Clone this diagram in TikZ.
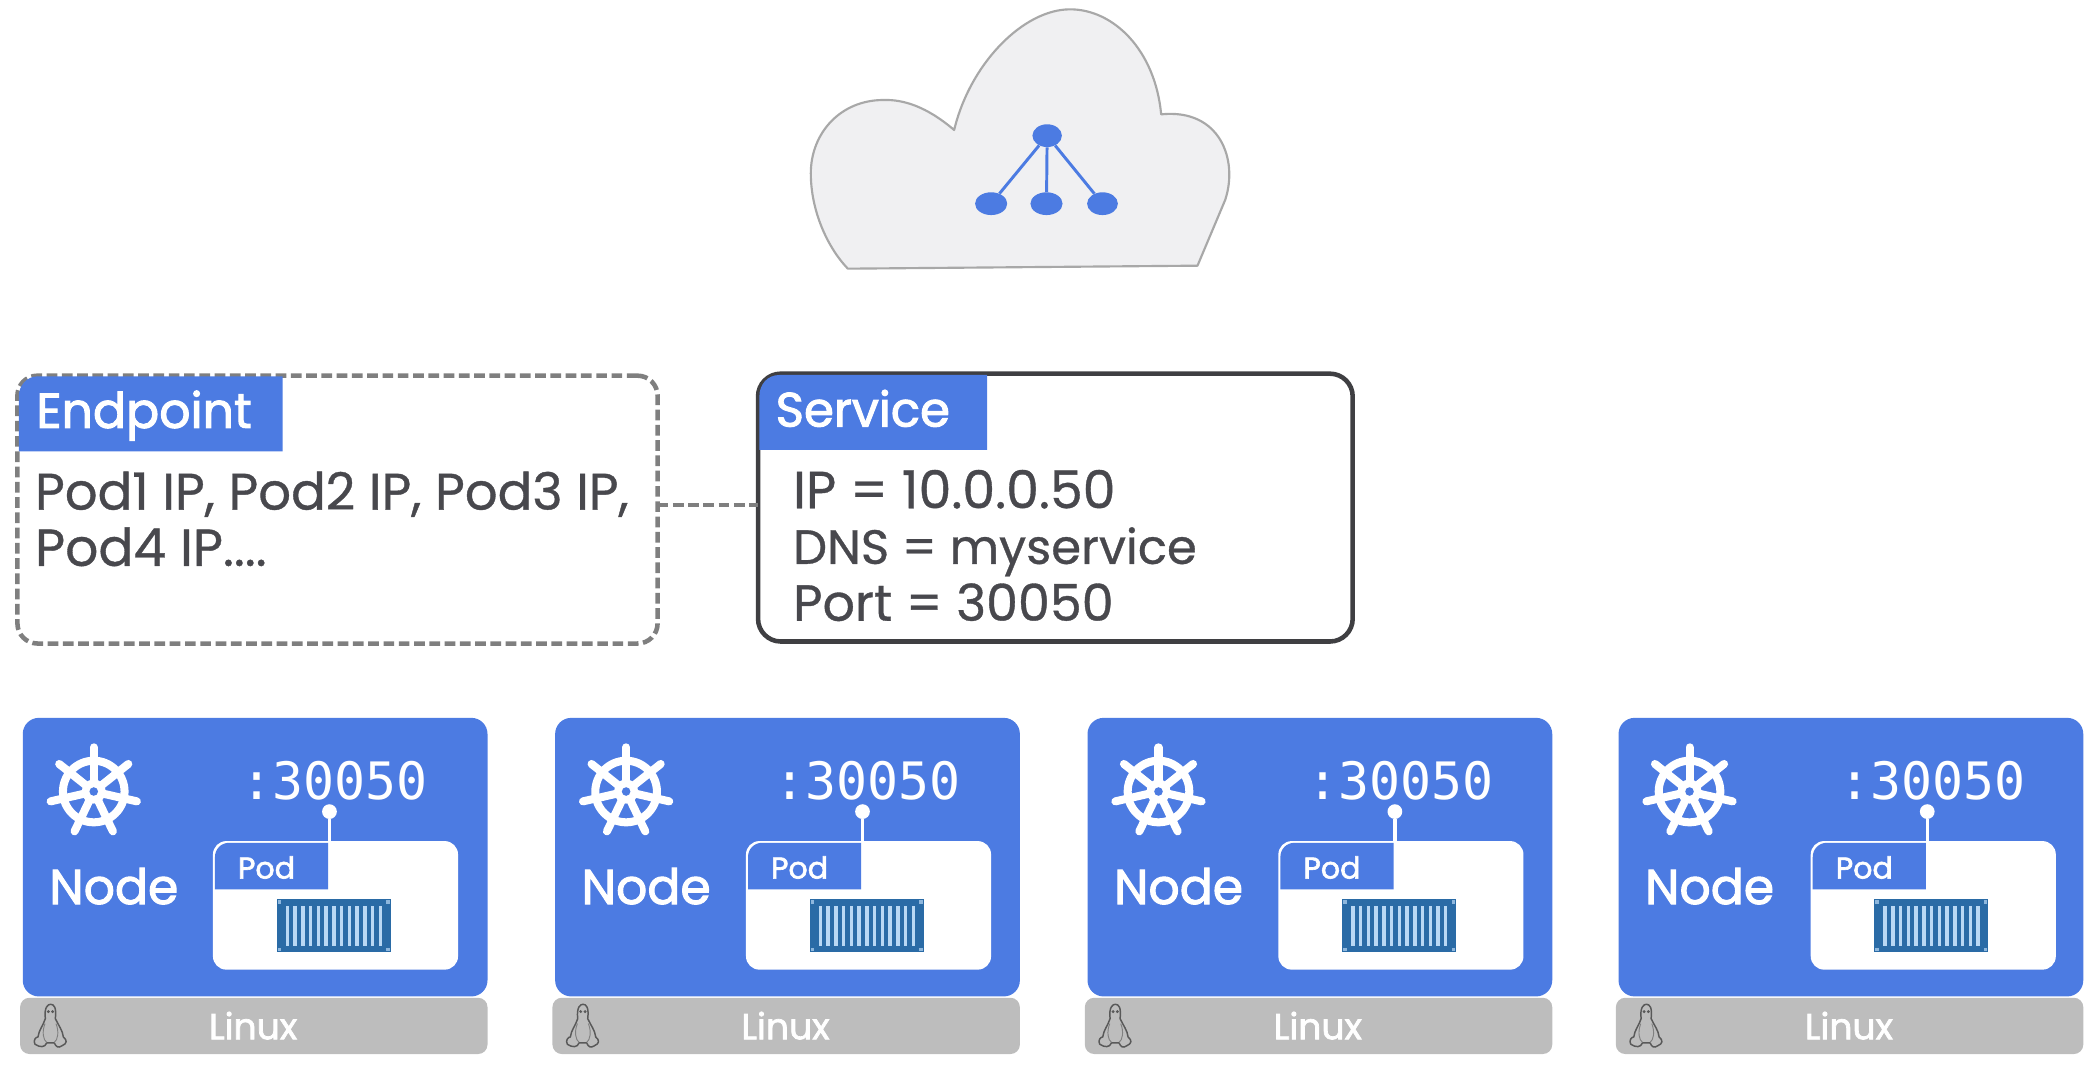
\documentclass[tikz,border=0pt]{standalone}
\usepackage{fontspec}
\setmainfont{Poppins}
\newfontfamily\bodyfont[FakeBold=0.7]{Poppins}
\newfontfamily\medfont[FakeBold=2]{Poppins}
\newfontfamily\portfont{DejaVu Sans Mono}
\definecolor{kblue}{HTML}{4C7BE2}
\definecolor{ktext}{HTML}{48484D}
\definecolor{kbar}{HTML}{BDBDBD}
\definecolor{kcont}{HTML}{2A6BA6}
\definecolor{kslat}{HTML}{B9D8F4}
\definecolor{kcloud}{HTML}{F0F0F2}
\definecolor{kcloudline}{HTML}{A8A8A8}
\definecolor{kdash}{HTML}{7F7F7F}
\definecolor{kborder}{HTML}{3F3F42}
\tikzset{
  plainbox/.style={rectangle,inner sep=0pt,outer sep=0pt},
  nodebox/.style={plainbox,fill=kblue,rounded corners=12pt,minimum width=347pt,minimum height=208pt},
  barbox/.style={plainbox,fill=kbar,rounded corners=7pt,minimum width=349pt,minimum height=42pt},
  podbox/.style={plainbox,fill=white,rounded corners=10pt,minimum width=183pt,minimum height=96pt},
  endbox/.style={plainbox,draw=kdash,line width=3.4pt,dash pattern=on 8pt off 3.4pt,rounded corners=15pt,minimum width=478pt,minimum height=200pt},
  svcbox/.style={plainbox,draw=kborder,line width=3.4pt,rounded corners=17pt,minimum width=444pt,minimum height=200pt},
  bodytext/.style={inner sep=0pt,anchor=base west,text=ktext,font=\bodyfont\fontsize{#1}{#1}\selectfont},
  headtext/.style={inner sep=0pt,anchor=base west,text=white,font=\medfont\fontsize{#1}{#1}\selectfont},
  nodetext/.style={inner sep=0pt,anchor=base,text=white,font=\medfont\fontsize{36.5}{36.5}\selectfont},
  podtext/.style={inner sep=0pt,anchor=base,text=white,font=\medfont\fontsize{22.5}{22.5}\selectfont},
  linuxtext/.style={inner sep=0pt,anchor=base,text=white,font=\medfont\fontsize{27}{27}\selectfont},
  porttext/.style={inner sep=0pt,anchor=base,text=white,font=\portfont\fontsize{38.5}{38.5}\selectfont},
  treedot/.style={ellipse,fill=kblue,inner sep=0pt,minimum width=24pt,minimum height=17pt},
  treeline/.style={draw=kblue,line width=2.2pt},
  zoomunits/.style={x=0.2489pt,y=-0.2489pt},
}
\usetikzlibrary{shapes.geometric}
\begin{document}
\begin{tikzpicture}[x=1pt,y=-1pt]
\useasboundingbox (0,0) rectangle (1568,799);
% cloud
\begin{scope}[shift={(582.5pt,0pt)},zoomunits]
  \path[fill=kcloud,draw=kcloudline,line width=1.6pt,line join=round]
    (203,806) -- (1252,797) -- (1335,600)
    .. controls (1375,480) and (1320,325) .. (1143,343)
    .. controls (1125,150) and (1000,28) .. (870,28)
    .. controls (730,28) and (570,190) .. (522,390)
    .. controls (440,320) and (370,298) .. (310,300)
    .. controls (180,300) and (92,400) .. (92,520)
    .. controls (92,630) and (140,740) .. (203,806) -- cycle;
  \node[treedot,minimum width=22pt] (root) at (801,407) {};
  \node[treedot] (leafa) at (633,611) {};
  \node[treedot] (leafb) at (799,611) {};
  \node[treedot,minimum width=23pt] (leafc) at (967,611) {};
  \draw[treeline] (root) -- (leafa);
  \draw[treeline] (root) -- (leafb);
  \draw[treeline] (root) -- (leafc);
\end{scope}
% endpoint
\node[endbox] (endpoint) at (252,380.5) {};
\path[fill=kblue] (14,337) -- (14,296) .. controls (14,288) and (20,281) .. (28,281) -- (211,281) -- (211,337) -- cycle;
\node[headtext=36.6] (endhead) at (27,319.5) {Endpoint};
\node[bodytext=38.3] (endline1) at (26,380.5) {Pod1 IP, Pod2 IP, Pod3 IP,};
\node[bodytext=38.8] (endline2) at (26,422.5) {Pod4 IP....};
% service
\node[svcbox] (service) at (788,379) {};
\path[fill=kblue] (567,336) -- (567,296) .. controls (567,287) and (573,280) .. (582,280) -- (737,280) -- (737,336) -- cycle;
\node[headtext=36] (svchead) at (579,318.5) {Service};
\node[bodytext=39] (svcline1) at (592,379.5) {IP = 10.0.0.50};
\node[bodytext=35.9] (svcline2) at (592,421) {DNS = myservice};
\node[bodytext=37.9] (svcline3) at (592,463.5) {Port = 30050};
\draw[kdash,line width=3.4pt,dash pattern=on 8pt off 3.4pt] ([yshift=3.5pt]endpoint.east) -- ([yshift=2pt]service.west);
% nodes
\foreach \i/\dx/\px in {1/0/0,2/397.5/398,3/795/795.5,4/1191.5/1193}{
  \begin{scope}[shift={(\dx pt,0pt)}]
    \node[barbox] (bar\i) at (189.5,766) {};
    \node[nodebox] (node\i) at (190.5,640) {};
    \node[nodetext] (nodelabel\i) at (85,675) {Node};
    \node[linuxtext] (linux\i) at (189,776) {Linux};
    % wheel
    \begin{scope}[shift={(70pt,-591pt)}]
      \draw[white,line width=6pt] (0,0) circle[radius=23pt];
      \foreach \a in {90,141.43,192.86,244.29,295.71,347.14,38.57}{
        \draw[white,line width=6pt,line cap=round] (0pt,0pt) -- ({33*cos(\a)},{-33*sin(\a)});
      }
      \fill[white] (0,0) circle[radius=9pt];
      \fill[kblue] (0,0) circle[radius=3.2pt];
    \end{scope}
    % penguin
    \begin{scope}[shift={(14.94pt,-739.4pt)},zoomunits]
      \draw[black!65,line width=1.1pt,line join=round]
        (76,85) .. controls (72,50) and (84,42) .. (92,42)
        .. controls (102,42) and (110,52) .. (106,85)
        .. controls (115,105) and (128,120) .. (130,140)
        .. controls (142,150) and (142,160) .. (125,167)
        .. controls (115,174) and (108,170) .. (103,158)
        -- (80,158)
        .. controls (75,172) and (60,172) .. (45,162)
        .. controls (38,150) and (48,140) .. (54,140)
        .. controls (56,120) and (70,105) .. (76,85) -- cycle;
      \draw[black!50,line width=.7pt] (75,100) .. controls (65,125) and (70,150) .. (80,156);
      \draw[black!50,line width=.7pt] (108,100) .. controls (118,125) and (113,150) .. (103,156);
      \fill[black!65] (85,64) circle[radius=1.2pt];
      \fill[black!65] (98,64) circle[radius=1.2pt];
    \end{scope}
  \end{scope}
  \begin{scope}[shift={(\px pt,0pt)}]
    \node[podbox] (pod\i) at (250.5,676) {};
    \path[fill=kblue] (160.5,664) -- (160.5,640) .. controls (160.5,634) and (165,629.3) .. (171,629.3) -- (245,629.3) -- (245,664) -- cycle;
    \node[podtext] (podlabel\i) at (199,656) {Pod};
    \node[porttext] (port\i) at (250,597) {:30050};
    \node[circle,fill=white,inner sep=0pt,minimum size=11pt] (dot\i) at (246,606) {};
    \draw[white,line width=2.5pt] (dot\i) -- (dot\i |- pod\i.north);
    % container
    \begin{scope}[shift={(206.6pt,-671.5pt)}]
      \fill[kcont] (0,0) rectangle (85,39.5);
      \foreach \k in {0,...,12}{
        \fill[kslat] ({8+5.78*\k-1.3},5) rectangle ({8+5.78*\k+1.3},35);
      }
      \foreach \cx/\cy in {2/2,83/2,2/37.5,83/37.5}{
        \fill[kslat!70!kcont] (\cx-1.3,\cy-1.3) rectangle (\cx+1.3,\cy+1.3);
      }
    \end{scope}
  \end{scope}
}
\end{tikzpicture}
\end{document}
